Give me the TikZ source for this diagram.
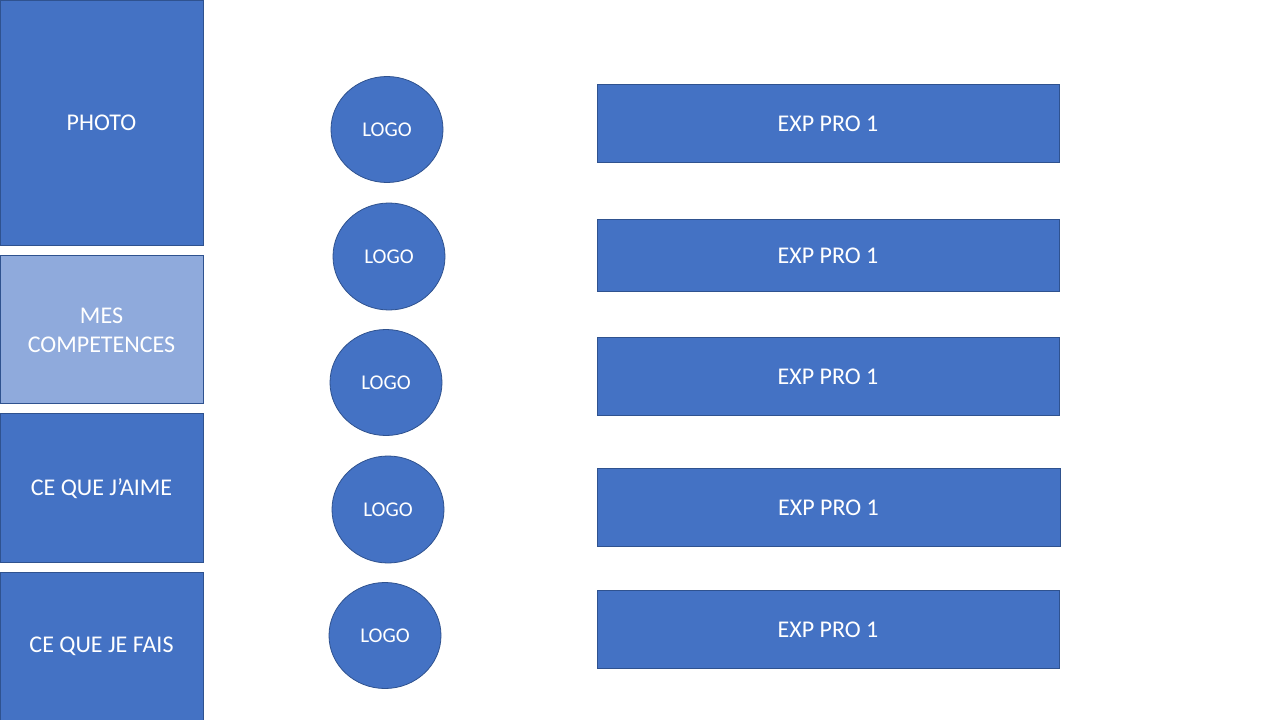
\documentclass[tikz,border=0pt]{standalone}
\usepackage{fontspec}
\setmainfont{Carlito}
\usetikzlibrary{shapes.geometric}
\definecolor{accent}{HTML}{4472C4}
\definecolor{accentlight}{HTML}{8FAADC}
\definecolor{edge}{HTML}{2F528F}
\begin{document}
\begin{tikzpicture}[x=1pt,y=-1pt,
  panel/.style={draw=edge,line width=0.8pt,fill=accent},
  label/.style={text=white,font=\fontsize{24}{29}\selectfont,align=center,inner sep=0pt},
  logo/.style={draw=edge,line width=0.8pt,fill=accent,text=white,font=\fontsize{21}{24}\selectfont,ellipse,inner sep=0pt,minimum width=112pt,minimum height=106pt},
  exp/.style={draw=edge,line width=0.8pt,fill=accent}]
\useasboundingbox (0,0) rectangle (1280,720);
\fill[white] (0,0) rectangle (1280,720);
% left column
\draw[panel] (0.5,0.5) rectangle (203,245);
\node[label] (photo) at (101.5,123) {PHOTO};
\draw[panel,fill=accentlight] (0.5,255) rectangle (203,403);
\node[label] (comp) at (101.5,330) {MES\\COMPETENCES};
\draw[panel] (0.5,413) rectangle (203,562);
\node[label] (aime) at (101.5,489) {CE QUE J’AIME};
\draw[panel] (0.5,572) rectangle (203,725);
\node[label] (fais) at (101.5,646) {CE QUE JE FAIS};
% logos
\node[logo] (l1) at (387,129.5) {LOGO};
\node[logo,minimum height=107pt] (l2) at (389,256.5) {LOGO};
\node[logo] (l3) at (386,382.5) {LOGO};
\node[logo,minimum height=107pt] (l4) at (388,509.5) {LOGO};
\node[logo] (l5) at (385,635.5) {LOGO};
% experiences
\draw[exp] (597,84) rectangle (1059,162);
\node[label] (e1) at (828,124) {EXP PRO 1};
\draw[exp] (597,219) rectangle (1059,291);
\node[label] (e2) at (828,256) {EXP PRO 1};
\draw[exp] (597,337) rectangle (1059,415);
\node[label] (e3) at (828,377) {EXP PRO 1};
\draw[exp] (597,468) rectangle (1060,546);
\node[label] (e4) at (828.5,508) {EXP PRO 1};
\draw[exp] (597,590) rectangle (1059,668);
\node[label] (e5) at (828,630) {EXP PRO 1};
\end{tikzpicture}
\end{document}
